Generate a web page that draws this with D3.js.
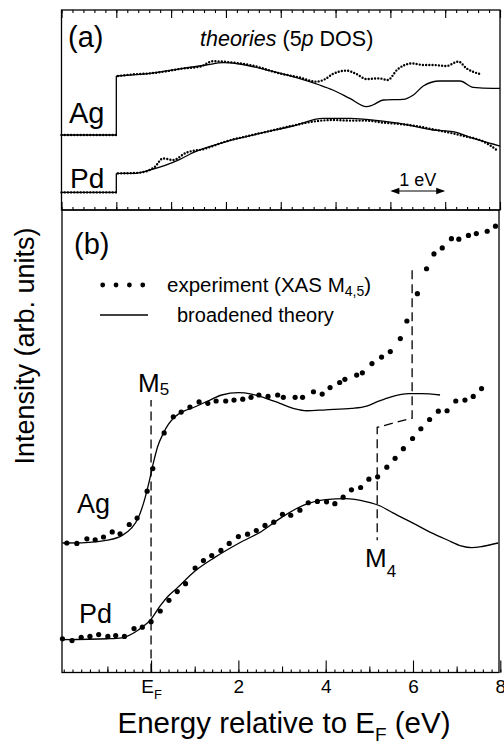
<!DOCTYPE html>
<html><head><meta charset="utf-8">
<script src="https://cdn.jsdelivr.net/npm/d3@7"></script>
<style>
html,body{margin:0;padding:0;background:#fff;}
svg{display:block;font-family:"Liberation Sans",Arial,Helvetica,sans-serif;}
</style></head>
<body><svg id="c" width="504" height="744"></svg>
<script>
// ---------- DATA (energy in eV, intensity in arbitrary units 0-100) ----------
// Panel (a): theories (5p DOS)
const agPreA = [[-1,37.5],[0,37.5],[0,67]];
const pdPreA = [[-1,8.8],[0,8.8],[0,18.3]];
const agTheoryA = [[0,67],[0.61,68.3],[1.22,70.8],[1.64,72.5],[1.95,73.7],[2.25,73],[2.74,70],[3.22,66.7],[3.71,62.5],[3.95,60],[4.26,55.8],[4.56,51.7],[4.68,52.5],[4.87,55],[5.23,55.3],[5.42,57.5],[5.6,62],[5.9,64.5],[6.27,64.5],[6.51,61.3],[6.87,60.8],[7,60.8]];
const agDotsA = [[0.03,67],[0.3,67.8],[0.61,68.3],[0.9,69.3],[1.22,70.8],[1.53,71.7],[1.77,74.4],[2.13,73.7],[2.49,72.2],[2.98,68.3],[3.34,66.3],[3.65,64.2],[3.8,65.3],[3.95,68],[4.2,69.7],[4.38,68],[4.56,65.5],[4.8,65.8],[4.95,65],[5.13,70.3],[5.4,73.3],[5.6,72.5],[5.78,72.5],[6.02,72],[6.24,74.2],[6.39,70.8],[6.63,68]];
const pdTheoryA = [[0,18.3],[0.31,18.3],[0.61,20],[1.16,25.3],[1.4,28.7],[2.01,34.2],[2.62,38.3],[3.22,42],[3.77,45.8],[4.26,45.8],[4.56,45.3],[5.17,43.3],[5.78,40],[6.14,39.2],[6.51,35.8],[6.87,33],[7,32]];
const pdDotsA = [[0.03,18.3],[0.4,18.6],[0.7,21.5],[0.85,25.8],[1.03,25],[1.28,28.7],[1.6,30.5],[2.0,34.3],[2.4,37],[2.8,39.5],[3.22,42.2],[3.59,44.2],[3.95,45],[4.26,44.7],[4.56,44.7],[4.87,43.7],[5.17,43],[5.47,42],[5.78,40.3],[6.14,38.3],[6.39,36.7],[6.63,35],[6.81,32.5],[6.94,30]];

// Panel (b): experiment (XAS M4,5) vs broadened theory
const agTheoryB = [[-2.03,28.0],[-1.5,28.1],[-1.0,28.6],[-0.67,29.6],[-0.45,31.2],[-0.3,33.3],[-0.16,37.0],[-0.05,41.0],[0.05,45.2],[0.15,48.8],[0.28,51.7],[0.4,53.7],[0.55,55.3],[0.75,56.5],[1.0,57.4],[1.3,58.7],[1.62,60.0],[2.0,60.5],[2.3,60.2],[2.6,59.4],[2.95,58.2],[3.3,57.0],[3.56,56.6],[4.0,56.8],[4.6,57.1],[4.94,57.6],[5.2,58.6],[5.5,59.6],[5.9,60.3],[6.2,60.3],[6.62,60.0]];
const agExpB = [[-1.93,28.0],[-1.70,27.9],[-1.47,28.9],[-1.28,28.7],[-1.09,29.3],[-0.89,30.4],[-0.71,30.0],[-0.50,32.0],[-0.32,33.4],[-0.09,39.2],[0.04,44.1],[0.30,51.8],[0.51,55.3],[0.69,56.3],[0.89,57.4],[1.10,58.5],[1.30,58.2],[1.49,58.7],[1.71,58.7],[1.90,58.9],[2.10,59.1],[2.29,59.5],[2.47,60.0],[2.68,59.7],[2.90,60.0],[3.03,59.5],[3.30,59.5],[3.47,59.5],[3.72,60.7],[3.92,60.2],[4.10,61.6],[4.32,62.7],[4.44,63.4],[4.71,64.3],[4.84,64.8],[5.06,66.8],[5.28,68.2],[5.48,69.4],[5.71,72.2],[5.86,76.0],[6.10,81.9],[6.31,87.3],[6.48,90.5],[6.67,91.8],[6.88,93.8],[7.05,93.7],[7.27,94.5],[7.45,94.9],[7.70,95.4],[7.89,96.5]];
const pdTheoryB = [[-2.03,7.1],[-1.0,7.3],[-0.67,7.5],[-0.37,8.7],[-0.15,10.2],[-0.02,11.3],[0.2,14.3],[0.4,16.6],[0.6,18.3],[1.0,21.9],[1.46,24.9],[2.0,27.9],[2.53,30.5],[3.0,33.6],[3.5,36.2],[4.0,37.4],[4.45,37.6],[4.94,36.9],[5.25,36.0],[5.54,34.5],[6.0,32.3],[6.4,30.3],[6.8,28.6],[7.1,27.4],[7.35,27.0],[7.61,27.3],[7.95,28.0]];
const pdExpB = [[-2.03,7.3],[-1.81,6.9],[-1.60,7.6],[-1.40,7.8],[-1.20,8.2],[-0.99,7.8],[-0.81,8.0],[-0.61,7.8],[-0.39,9.5],[-0.20,9.8],[0.0,11.0],[0.21,13.3],[0.41,15.6],[0.60,17.5],[0.79,19.2],[1.01,22.6],[1.20,24.2],[1.39,25.3],[1.60,26.4],[1.79,27.9],[2.0,29.4],[2.21,29.9],[2.41,30.7],[2.61,31.8],[2.81,32.5],[3.01,34.2],[3.20,34.0],[3.41,35.1],[3.60,36.7],[3.81,37.0],[4.02,36.9],[4.21,36.5],[4.40,37.9],[4.59,39.5],[4.80,40.0],[4.99,41.8],[5.19,42.3],[5.40,44.4],[5.59,46.3],[5.78,48.4],[5.99,50.6],[6.18,52.7],[6.38,54.7],[6.58,56.5],[6.78,56.6],[6.98,58.7],[7.19,58.9],[7.38,59.7],[7.57,61.4]];

// Edge markers (dashed)
const m5Line = [[0,0],[0,58.9]];
const m4Line = [[5.98,87.0],[5.98,55.0],[5.18,53.0],[5.18,28.6]];

// Tick values / labels
const majorTicksA = [-1,0,1,2,3,4,5,6,7];
const majorTicksB = [0,2,4,6,8];
const tickLabelsB = ["E_F","2","4","6","8"];
const midTicksB = [-1,1,3,5,7];

// ---------- LAYOUT ----------
const svg = d3.select("#c");
svg.append("rect").attr("width",504).attr("height",744).attr("fill","#fff");

const xA = d3.scaleLinear().domain([-1,7]).range([61.5,500]);
const yA = d3.scaleLinear().domain([0,100]).range([210,10]);
const xB = d3.scaleLinear().domain([-2.04,7.97]).range([62,499]);
const yB = d3.scaleLinear().domain([0,100]).range([672.5,210]);

const SW = 1.3;

function minorRange(a,b,step){ const r=[]; for(let i=0;;i++){const v=+(a+i*step).toFixed(4); if(v>b+1e-9)break; r.push(v);} return r; }

function drawAxis(g, axis){
  g.call(axis);
  g.select(".domain").remove();
  g.selectAll(".tick line").attr("stroke","#000").attr("stroke-width",1.1);
}

// ----- Panel (a) -----
const gA = svg.append("g");
drawAxis(gA.append("g").attr("transform","translate(0,10)"),
  d3.axisTop(xA).tickValues(minorRange(-1,7,0.2)).tickSize(-3).tickFormat(""));
drawAxis(gA.append("g").attr("transform","translate(0,10)"),
  d3.axisTop(xA).tickValues(majorTicksA).tickSize(-8).tickFormat(""));
drawAxis(gA.append("g").attr("transform","translate(0,210)"),
  d3.axisBottom(xA).tickValues(minorRange(-1,7,0.2)).tickSize(-3).tickFormat(""));
drawAxis(gA.append("g").attr("transform","translate(0,210)"),
  d3.axisBottom(xA).tickValues(majorTicksA).tickSize(-8).tickFormat(""));

const lineA = d3.line().x(d=>xA(d[0])).y(d=>yA(d[1]));
const lineAc = d3.line().x(d=>xA(d[0])).y(d=>yA(d[1])).curve(d3.curveMonotoneX);

[agPreA, pdPreA].forEach(s=>{
  gA.append("path").attr("d",lineA(s)).attr("fill","none").attr("stroke","#000").attr("stroke-width",SW);
});
[agTheoryA, pdTheoryA].forEach(s=>{
  gA.append("path").attr("d",lineAc(s)).attr("fill","none").attr("stroke","#000").attr("stroke-width",SW);
});
[agPreA.slice(0,2), pdPreA.slice(0,2)].forEach(s=>{
  gA.append("path").attr("d",lineA(s)).attr("fill","none").attr("stroke","#000")
    .attr("stroke-width",2.4).attr("stroke-linecap","round").attr("stroke-dasharray","0 3.2");
});
[agDotsA, pdDotsA].forEach(s=>{
  gA.append("path").attr("d",lineAc(s)).attr("fill","none").attr("stroke","#000")
    .attr("stroke-width",2.4).attr("stroke-linecap","round").attr("stroke-dasharray","0 3.2");
});

gA.append("rect").attr("x",xA(-1)).attr("y",yA(100)).attr("width",xA(7)-xA(-1)).attr("height",yA(0)-yA(100))
  .attr("fill","none").attr("stroke","#000").attr("stroke-width",SW);

gA.append("text").attr("x",68).attr("y",47).attr("font-size",29).text("(a)");
const th = gA.append("text").attr("x",200).attr("y",46).attr("font-size",21.5);
th.append("tspan").attr("font-style","italic").text("theories");
th.append("tspan").text(" (5");
th.append("tspan").attr("font-style","italic").text("p");
th.append("tspan").text(" DOS)");
gA.append("text").attr("x",69).attr("y",123).attr("font-size",29).text("Ag");
gA.append("text").attr("x",70).attr("y",188).attr("font-size",28).text("Pd");

const ay = 191;
gA.append("line").attr("x1",xA(5)+2).attr("x2",xA(6)-2).attr("y1",ay).attr("y2",ay).attr("stroke","#000").attr("stroke-width",1.2);
[[xA(5),1],[xA(6),-1]].forEach(([x,dir])=>{
  gA.append("path").attr("d",`M${x},${ay} L${x+dir*9},${ay-3.2} L${x+dir*9},${ay+3.2} Z`).attr("fill","#000");
});
gA.append("text").attr("x",xA(5.5)).attr("y",186).attr("text-anchor","middle").attr("font-size",18).text("1 eV");

// ----- Panel (b) -----
const gB = svg.append("g");
const axB = gB.append("g").attr("transform","translate(0,672.5)");
drawAxis(axB.append("g"), d3.axisBottom(xB).tickValues(minorRange(-2,8,0.2)).tickSize(-3).tickFormat(""));
drawAxis(axB.append("g"), d3.axisBottom(xB).tickValues(midTicksB).tickSize(-6).tickFormat(""));
const majB = axB.append("g");
drawAxis(majB, d3.axisBottom(xB).tickValues(majorTicksB).tickSize(-12).tickPadding(7)
  .tickFormat((d,i)=>tickLabelsB[i]));
majB.selectAll(".tick text").attr("font-size",19).attr("fill","#000").attr("font-family",null)
  .each(function(){
    const t = d3.select(this); const s = t.text();
    if (s.includes("_")) {
      const [a,b] = s.split("_");
      t.text(null);
      t.append("tspan").text(a);
      t.append("tspan").attr("font-size",13).attr("dy",6).text(b);
    }
  });

const lineB = d3.line().x(d=>xB(d[0])).y(d=>yB(d[1])).curve(d3.curveMonotoneX);
const lineBl = d3.line().x(d=>xB(d[0])).y(d=>yB(d[1]));
[agTheoryB, pdTheoryB].forEach(s=>{
  gB.append("path").attr("d",lineB(s)).attr("fill","none").attr("stroke","#000").attr("stroke-width",SW);
});
[m5Line, m4Line].forEach(s=>{
  gB.append("path").attr("d",lineBl(s)).attr("fill","none").attr("stroke","#000").attr("stroke-width",SW)
    .attr("stroke-dasharray","9,5");
});
[agExpB, pdExpB].forEach(s=>{
  gB.append("g").selectAll("circle").data(s).join("circle")
    .attr("cx",d=>xB(d[0])).attr("cy",d=>yB(d[1])).attr("r",2.6).attr("fill","#000");
});

gB.append("rect").attr("x",xB.range()[0]).attr("y",yB(100)).attr("width",xB.range()[1]-xB.range()[0]).attr("height",yB(0)-yB(100))
  .attr("fill","none").attr("stroke","#000").attr("stroke-width",SW);

gB.append("text").attr("x",74).attr("y",254).attr("font-size",29).text("(b)");
gB.append("text").attr("x",77).attr("y",513).attr("font-size",27).text("Ag");
gB.append("text").attr("x",79).attr("y",623).attr("font-size",27).text("Pd");
const m5 = gB.append("text").attr("x",138).attr("y",392).attr("font-size",26);
m5.append("tspan").text("M"); m5.append("tspan").attr("font-size",17).attr("dy",3).text("5");
const m4 = gB.append("text").attr("x",365).attr("y",567).attr("font-size",26);
m4.append("tspan").text("M"); m4.append("tspan").attr("font-size",17).attr("dy",10).text("4");

const legX0 = 102.7, legStep = 13.35;
gB.append("g").selectAll("circle").data([0,1,2,3]).join("circle")
  .attr("cx",i=>legX0+i*legStep).attr("cy",285).attr("r",2.4).attr("fill","#000");
const lt1 = gB.append("text").attr("x",167).attr("y",292).attr("font-size",20.5);
lt1.append("tspan").text("experiment (XAS M");
lt1.append("tspan").attr("font-size",14).attr("dy",4).text("4,5");
lt1.append("tspan").attr("dy",-4).text(")");
gB.append("line").attr("x1",100).attr("x2",148).attr("y1",315).attr("y2",315).attr("stroke","#000").attr("stroke-width",SW);
gB.append("text").attr("x",177).attr("y",322).attr("font-size",20).text("broadened theory");

const xl = svg.append("text").attr("x",284).attr("y",733).attr("text-anchor","middle").attr("font-size",29.5);
xl.append("tspan").text("Energy relative to E");
xl.append("tspan").attr("font-size",19).attr("dy",8).text("F");
xl.append("tspan").attr("dy",-8).text(" (eV)");
svg.append("text").attr("transform","translate(34,346) rotate(-90)").attr("text-anchor","middle")
  .attr("font-size",27).text("Intensity  (arb. units)");
</script></body></html>
